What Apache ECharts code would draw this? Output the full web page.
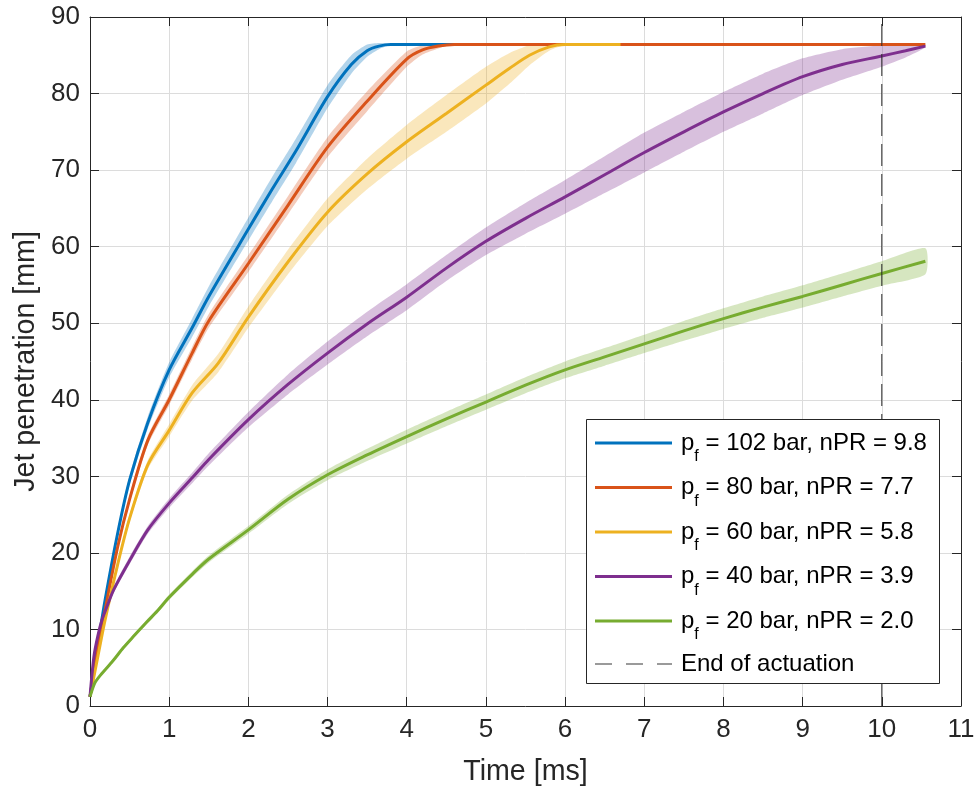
<!DOCTYPE html>
<html>
<head>
<meta charset="utf-8">
<title>Jet penetration</title>
<script src="https://cdn.jsdelivr.net/npm/echarts@6/dist/echarts.min.js"></script>
<style>
  html, body { margin: 0; padding: 0; background: #fff; }
  #chart { width: 977px; height: 794px; }
</style>
</head>
<body>
<div id="chart"></div>
<script>
// values: time [ms], mean penetration [mm], half-width of shaded band [mm]
var blueT = [0, 0.1, 0.19, 0.35, 0.5, 0.73, 1, 1.29, 1.5, 2, 2.3, 2.6, 3, 3.3, 3.5, 3.65, 3.8, 4.2, 5.5];
var blueY = [1.2, 8, 13.8, 22.6, 29.5, 37, 43.9, 49.4, 53.5, 62.3, 67.5, 72.5, 79.6, 83.8, 85.6, 86.2, 86.4, 86.4, 86.4];
var blueS = [0, 0.3, 0.4, 0.5, 0.6, 0.8, 1, 1.2, 1.3, 1.5, 1.6, 1.6, 1.5, 1.2, 0.8, 0.4, 0.1, 0, 0];

var redT = [0, 0.1, 0.19, 0.35, 0.5, 0.73, 1, 1.29, 1.5, 2, 2.5, 3, 3.5, 4, 4.2, 4.4, 4.6, 10.55];
var redY = [1.2, 7.5, 12.5, 20.8, 27, 34.7, 40, 46.1, 50.3, 57.8, 65.4, 73, 79, 84.5, 85.7, 86.2, 86.4, 86.4];
var redS = [0, 0.2, 0.3, 0.4, 0.5, 0.6, 0.7, 0.8, 0.9, 1.1, 1.2, 1.3, 1.3, 1.0, 0.6, 0.3, 0, 0];

var yelT = [0, 0.1, 0.19, 0.35, 0.5, 0.73, 1, 1.29, 1.62, 2, 2.5, 3, 3.5, 4, 4.5, 5, 5.3, 5.55, 5.8, 6, 6.7];
var yelY = [1.2, 6.5, 11.2, 18.5, 24.5, 31.5, 36, 40.9, 44.8, 50.8, 58, 64.5, 69.5, 73.7, 77.4, 81.1, 83.3, 85, 86.1, 86.4, 86.4];
var yelS = [0, 0.2, 0.3, 0.4, 0.5, 0.6, 0.8, 1.0, 1.2, 1.4, 1.6, 1.8, 2.0, 2.2, 2.4, 2.4, 2.0, 1.3, 0.5, 0.1, 0];

var purT = [0, 0.05, 0.1, 0.15, 0.2, 0.3, 0.5, 0.73, 1, 1.3, 1.5, 2, 2.5, 3, 3.5, 4, 4.5, 5, 5.5, 6, 6.5, 7, 7.5, 8, 8.5, 9, 9.5, 10, 10.3, 10.55];
var purY = [1.2, 6.5, 9.2, 11.2, 12.6, 15.2, 19, 23, 26.5, 29.9, 32.2, 37.4, 42, 46.1, 49.9, 53.4, 57.2, 60.7, 63.7, 66.5, 69.4, 72.3, 75, 77.6, 80, 82.2, 83.8, 84.9, 85.6, 86.2];
var purS = [0, 0.2, 0.25, 0.3, 0.35, 0.4, 0.5, 0.5, 0.6, 0.7, 0.8, 1.0, 1.3, 1.5, 1.6, 1.7, 1.7, 1.8, 2.0, 2.2, 2.4, 2.6, 2.6, 2.6, 2.6, 2.4, 2.0, 1.4, 0.9, 0.2];

var grnT = [0, 0.06, 0.13, 0.29, 0.42, 0.55, 0.72, 0.85, 1, 1.3, 1.5, 2, 2.5, 3, 3.5, 4, 4.5, 5, 5.5, 6, 6.5, 7, 7.5, 8, 8.5, 9, 9.5, 10, 10.55];
var grnY = [1.2, 3.0, 4.0, 5.9, 7.6, 9.1, 11, 12.4, 14.2, 17.3, 19.2, 23, 27, 30.2, 32.8, 35.2, 37.5, 39.7, 41.9, 43.9, 45.6, 47.3, 49, 50.6, 52.1, 53.5, 55, 56.5, 58.1];
var grnS = [0, 0.1, 0.15, 0.2, 0.25, 0.25, 0.3, 0.3, 0.35, 0.4, 0.45, 0.5, 0.6, 0.7, 0.8, 0.9, 0.95, 1.0, 1.05, 1.1, 1.15, 1.2, 1.3, 1.35, 1.4, 1.45, 1.5, 1.6, 1.7];

var pressures = [102, 80, 60, 40, 20];
var nPR = ['9.8', '7.7', '5.8', '3.9', '2.0'];
var colors = ['#0072BD', '#D95319', '#EDB120', '#7E2F8E', '#77AC30'];
var actuationEnd = 10;
var actuationLabel = 'End of actuation';

var xTicks = [0, 11, 1];   // min, max, step
var yTicks = [0, 90, 10];

var FONT = '"Liberation Sans", Arial, Helvetica, sans-serif';
var AX = '#262626';

var groups = [
  [blueT, blueY, blueS],
  [redT, redY, redS],
  [yelT, yelY, yelS],
  [purT, purY, purS],
  [grnT, grnY, grnS]
];

function seriesName(i) {
  return 'p_f = ' + pressures[i] + ' bar, nPR = ' + nPR[i];
}

// shaded band (mean +- spread) as a polygon through the axes' scales
function bandSeries(g, color) {
  var t = g[0], y = g[1], s = g[2];
  return {
    type: 'custom',
    name: 'band',
    silent: true,
    clip: true,
    z: 1,
    data: [[t[0], y[0]]],
    renderItem: function (params, api) {
      var pts = [];
      for (var i = 0; i < t.length; i++) pts.push(api.coord([t[i], y[i] + s[i]]));
      for (var j = t.length - 1; j >= 0; j--) pts.push(api.coord([t[j], y[j] - s[j]]));
      return {
        type: 'polygon',
        shape: { points: pts, smooth: 0.2 },
        style: { fill: color, opacity: 0.3 }
      };
    }
  };
}

var series = [];
groups.forEach(function (g, i) {
  series.push(bandSeries(g, colors[i]));
});
groups.forEach(function (g, i) {
  series.push({
    type: 'line',
    name: seriesName(i),
    data: g[0].map(function (x, k) { return [x, g[1][k]]; }),
    symbol: 'none',
    smooth: 0.3,
    z: 2,
    lineStyle: { color: colors[i], width: 3 },
    itemStyle: { color: colors[i] }
  });
});
series.push({
  type: 'line',
  name: actuationLabel,
  data: [[actuationEnd, yTicks[0]], [actuationEnd, yTicks[1]]],
  symbol: 'none',
  z: 3,
  lineStyle: { color: AX, width: 1, type: [22, 8] }
});

// legend box drawn with graphic elements (MATLAB style, subscript f)
var legendBox = { x: 586.5, y: 419.5, w: 353, h: 264 };
var rowY = [443, 487.5, 532, 576.5, 621, 664];
var legendItems = [{
  type: 'rect', z: 100,
  shape: { x: legendBox.x, y: legendBox.y, width: legendBox.w, height: legendBox.h },
  style: { fill: '#fff', stroke: AX, lineWidth: 1 }
}];
var richStyles = {
  p: { fontSize: 24, fontFamily: FONT, fill: '#000' },
  b: { fontSize: 16, fontFamily: FONT, fill: '#000', padding: [28, 0, 0, 0] },
  a: { fontSize: 24, fontFamily: FONT, fill: '#000' }
};
rowY.forEach(function (cy, i) {
  var isPf = i < pressures.length;
  legendItems.push({
    type: 'line', z: 101,
    shape: { x1: 595, y1: cy, x2: 672, y2: cy },
    style: isPf ? { stroke: colors[i], lineWidth: 3 }
                : { stroke: '#7a7a7a', lineWidth: 1.5, lineDash: [17, 14] }
  });
  legendItems.push({
    type: 'text', z: 101, x: 681, y: cy,
    style: {
      text: isPf ? '{p|p}{b|f}{a|' + seriesName(i).slice(3) + '}' : '{a|' + actuationLabel + '}',
      rich: richStyles,
      fontSize: 24, fontFamily: FONT, fill: '#000',
      align: 'left', verticalAlign: 'middle'
    }
  });
});

var tickCommon = { show: true, inside: true, length: 9, lineStyle: { color: AX, width: 1 } };
var lineCommon = { show: true, onZero: false, lineStyle: { color: AX, width: 1 } };

var chart = echarts.init(document.getElementById('chart'));
chart.setOption({
  animation: false,
  backgroundColor: '#fff',
  grid: { left: 90, right: 16, top: 17, bottom: 88, containLabel: false, outerBoundsMode: 'none' },
  xAxis: [{
    type: 'value', min: xTicks[0], max: xTicks[1], interval: xTicks[2], position: 'bottom',
    axisLine: lineCommon, axisTick: tickCommon,
    axisLabel: { fontSize: 26, color: AX, fontFamily: FONT, margin: 11 },
    splitLine: { show: true, lineStyle: { color: '#dcdcdc', width: 1 } },
    name: 'Time [ms]', nameLocation: 'middle', nameGap: 52,
    nameTextStyle: { fontSize: 28.6, color: AX, fontFamily: FONT }
  }, {
    type: 'value', min: xTicks[0], max: xTicks[1], interval: xTicks[2], position: 'top',
    axisLine: lineCommon, axisTick: tickCommon,
    axisLabel: { show: false }, splitLine: { show: false }
  }],
  yAxis: [{
    type: 'value', min: yTicks[0], max: yTicks[1], interval: yTicks[2], position: 'left',
    axisLine: lineCommon, axisTick: tickCommon,
    axisLabel: { fontSize: 26, color: AX, fontFamily: FONT, margin: 10 },
    splitLine: { show: true, lineStyle: { color: '#dcdcdc', width: 1 } },
    name: 'Jet penetration [mm]', nameLocation: 'middle', nameGap: 45, nameRotate: 90,
    nameTextStyle: { fontSize: 28.6, color: AX, fontFamily: FONT }
  }, {
    type: 'value', min: yTicks[0], max: yTicks[1], interval: yTicks[2], position: 'right',
    axisLine: lineCommon, axisTick: tickCommon,
    axisLabel: { show: false }, splitLine: { show: false }
  }],
  graphic: { elements: legendItems },
  series: series
});
</script>
</body>
</html>
